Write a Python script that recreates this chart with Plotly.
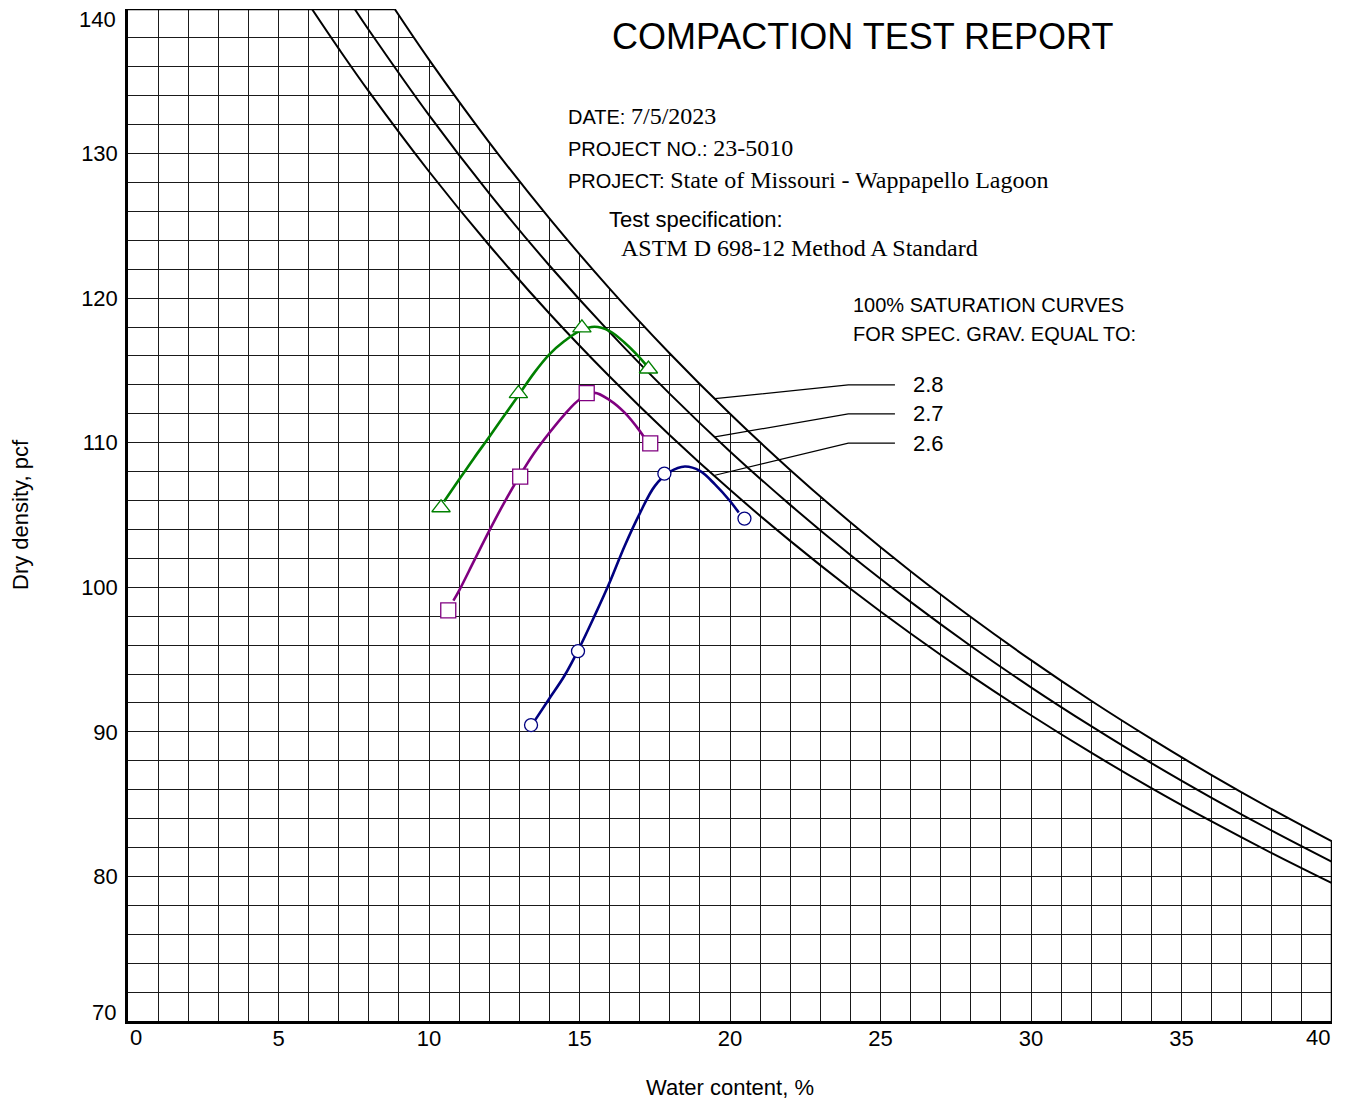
import plotly.graph_objects as go

# ---------------- axis ticks ----------------
x_tick_vals = [0, 5, 10, 15, 20, 25, 30, 35, 40]
x_tick_text = ["", "5", "10", "15", "20", "25", "30", "35", ""]
y_tick_vals = [70, 80, 90, 100, 110, 120, 130, 140]
y_tick_text = ["", "80", "90", "100", "110", "120", "130", ""]

X_RANGE = [0, 40]
Y_RANGE = [70, 140]

# ---------------- 100% saturation curves ----------------
sat_28_w = [8.86, 10, 12, 14, 16, 18, 20, 22, 24, 26, 28, 30, 32, 34, 36, 38, 40]
sat_28_d = [140.0, 136.5, 130.78, 125.52, 120.66, 116.17, 112.0, 108.12, 104.5,
            101.11, 97.94, 94.96, 92.15, 89.51, 87.01, 84.65, 82.42]
sat_27_w = [7.53, 8, 10, 12, 14, 16, 18, 20, 22, 24, 26, 28, 30, 32, 34, 36, 38, 40]
sat_27_d = [140.0, 138.55, 132.66, 127.25, 122.26, 117.65, 113.38, 109.4, 105.7,
            102.23, 98.99, 95.94, 93.08, 90.39, 87.84, 85.44, 83.16, 81.0]
sat_26_w = [6.11, 7, 8, 10, 12, 14, 16, 18, 20, 22, 24, 26, 28, 30, 32, 34, 36, 38, 40]
sat_26_d = [140.0, 137.26, 134.3, 128.76, 123.66, 118.94, 114.58, 110.52, 106.74,
            103.21, 99.9, 96.8, 93.89, 91.15, 88.56, 86.11, 83.8, 81.61, 79.53]
sat_labels = ["2.8", "2.7", "2.6"]

# ---------------- test points ----------------
green_pts_w = [10.40, 12.97, 15.08, 17.29]
green_pts_d = [105.5, 113.4, 117.95, 115.1]
purple_pts_w = [10.64, 13.03, 15.24, 17.35]
purple_pts_d = [98.4, 107.65, 113.43, 109.95]
blue_pts_w = [13.39, 14.95, 17.82, 20.48]
blue_pts_d = [90.47, 95.58, 107.86, 104.75]

# ---------------- fitted curves ----------------
green_fit_w = [10.50, 11.0, 11.5, 12.0, 12.5, 13.0, 13.5, 14.0, 14.5, 15.0, 15.5, 16.0, 16.5, 17.0, 17.26]
green_fit_d = [105.93, 107.45, 108.95, 110.4, 111.88, 113.36, 114.85, 116.11, 117.03, 117.72, 118.02,
               117.72, 116.92, 115.89, 115.26]
purple_fit_w = [10.81, 11.0, 11.5, 12.0, 12.5, 13.0, 13.5, 14.0, 14.5, 15.0, 15.5, 16.0, 16.5, 17.0, 17.2]
purple_fit_d = [99.08, 99.77, 101.84, 103.9, 105.86, 107.66, 109.3, 110.69, 111.95, 112.99, 113.45,
                112.95, 112.08, 110.82, 110.2]
blue_fit_w = [13.53, 14.0, 14.5, 15.0, 15.5, 16.0, 16.5, 17.0, 17.5, 18.0, 18.5, 19.0, 19.5, 20.0, 20.29]
blue_fit_d = [90.83, 92.31, 93.88, 95.83, 98.02, 100.33, 102.86, 105.1, 107.0, 107.98, 108.35,
              108.05, 107.12, 105.97, 105.17]

SANS = "Liberation Sans, Arial, sans-serif"
GREEN = "#008000"
PURPLE = "#800080"
NAVY = "#000080"
GRID_W = 1.4
GRID_C = "#1a1a1a"

fig = go.Figure()

# white mask above the 2.8 saturation curve (hides grid there)
fig.add_trace(go.Scatter(x=[sat_28_w[0], X_RANGE[1]], y=[Y_RANGE[1], Y_RANGE[1]],
                         mode="lines", line=dict(width=0, color="white"),
                         hoverinfo="skip", showlegend=False))
fig.add_trace(go.Scatter(x=sat_28_w, y=sat_28_d, mode="lines",
                         line=dict(color="black", width=2, shape="spline"),
                         fill="tonexty", fillcolor="white",
                         name="Gs 2.8", showlegend=False))
fig.add_trace(go.Scatter(x=sat_27_w, y=sat_27_d, mode="lines",
                         line=dict(color="black", width=2, shape="spline"),
                         name="Gs 2.7", showlegend=False))
fig.add_trace(go.Scatter(x=sat_26_w, y=sat_26_d, mode="lines",
                         line=dict(color="black", width=2, shape="spline"),
                         name="Gs 2.6", showlegend=False))

for fw, fd, col in [(green_fit_w, green_fit_d, GREEN),
                    (purple_fit_w, purple_fit_d, PURPLE),
                    (blue_fit_w, blue_fit_d, NAVY)]:
    fig.add_trace(go.Scatter(x=fw, y=fd, mode="lines",
                             line=dict(color=col, width=2.6, shape="spline"),
                             showlegend=False, hoverinfo="skip"))

for pw, pdd, col, sym, sz in [(green_pts_w, green_pts_d, GREEN, "triangle-up", 16),
                              (purple_pts_w, purple_pts_d, PURPLE, "square", 15),
                              (blue_pts_w, blue_pts_d, NAVY, "circle", 13)]:
    fig.add_trace(go.Scatter(x=pw, y=pdd, mode="markers",
                             marker=dict(symbol=sym, size=sz, color="white",
                                         line=dict(color=col, width=1.3)),
                             showlegend=False))

# leader lines to saturation curves
leaders = [
    ("M 19.5,113.05 L 23.93,114.0 L 25.48,114.0", 114.0),
    ("M 19.5,110.4 L 23.93,112.0 L 25.48,112.0", 112.0),
    ("M 19.5,107.75 L 23.93,109.97 L 25.48,109.97", 109.97),
]
shapes = []
for path, _ in leaders:
    shapes.append(dict(type="path", path=path, xref="x", yref="y",
                       line=dict(color="black", width=1.2)))
# frame segments (top-left and bottom-right parts)
shapes.append(dict(type="line", xref="x", yref="y", x0=X_RANGE[0], x1=sat_28_w[0],
                   y0=Y_RANGE[1], y1=Y_RANGE[1], line=dict(color="black", width=2.5)))
shapes.append(dict(type="line", xref="x", yref="y", x0=X_RANGE[1], x1=X_RANGE[1],
                   y0=Y_RANGE[0], y1=sat_28_d[-1], line=dict(color="black", width=2.5)))

annotations = []
def ann(text, x, y, size=20, xanchor="left", family=SANS, **kw):
    annotations.append(dict(text=text, x=x, y=y, xref="x", yref="y", showarrow=False,
                            xanchor=xanchor, yanchor="middle",
                            font=dict(family=family, size=size, color="black"), **kw))

def serif(t, size=24):
    return '<span style="font-family:Liberation Serif;font-size:%dpx">%s</span>' % (size, t)

ann("COMPACTION TEST REPORT", 24.39, 138.13, size=36, xanchor="center")
ann("DATE: " + serif("7/5/2023"), 14.55, 132.59)
ann("PROJECT NO.: " + serif("23-5010"), 14.55, 130.37)
ann("PROJECT: " + serif("State of Missouri - Wappapello Lagoon"), 14.55, 128.16)
ann("Test specification:", 15.91, 125.46, size=22)
ann(serif("ASTM D 698-12 Method A Standard"), 16.31, 123.45)
ann("100% SATURATION CURVES", 24.02, 119.5)
ann("FOR SPEC. GRAV. EQUAL TO:", 24.02, 117.49)
for lbl, (_, yy) in zip(sat_labels, leaders):
    ann(lbl, 26.01, yy, size=22)

# edge tick labels
edge = dict(showarrow=False, xref="paper", yref="paper",
            font=dict(family=SANS, size=22, color="black"))
annotations.append(dict(edge, text=str(x_tick_vals[0]), x=0, y=0, xanchor="left",
                        yanchor="middle", yshift=-16))
annotations.append(dict(edge, text=str(x_tick_vals[-1]), x=1, y=0, xanchor="right",
                        yanchor="middle", yshift=-16))
annotations.append(dict(edge, text=str(y_tick_vals[-1]), x=0, y=1, xanchor="right",
                        yanchor="top", xshift=-10, yshift=4))
annotations.append(dict(edge, text=str(y_tick_vals[0]), x=0, y=0, xanchor="right",
                        yanchor="bottom", xshift=-10, yshift=-6))

fig.update_layout(
    width=1347, height=1100,
    margin=dict(l=120, r=23, t=1, b=87),
    paper_bgcolor="white", plot_bgcolor="white",
    font=dict(family=SANS, size=22, color="black"),
    shapes=shapes, annotations=annotations,
    xaxis=dict(range=X_RANGE, tickvals=x_tick_vals, ticktext=x_tick_text,
               showgrid=True, gridcolor=GRID_C, gridwidth=GRID_W,
               minor=dict(dtick=1, showgrid=True, gridcolor=GRID_C, gridwidth=GRID_W),
               showline=True, linecolor="black", linewidth=2.5, ticks="",
               ticklabelstandoff=-4,
               zeroline=False, tickfont=dict(size=22),
               title=dict(text="Water content, %", standoff=30, font=dict(size=22))),
    yaxis=dict(range=Y_RANGE, tickvals=y_tick_vals, ticktext=y_tick_text,
               showgrid=True, gridcolor=GRID_C, gridwidth=GRID_W,
               minor=dict(dtick=2, showgrid=True, gridcolor=GRID_C, gridwidth=GRID_W),
               showline=True, linecolor="black", linewidth=2.5, ticks="",
               ticklabelstandoff=3,
               zeroline=False, tickfont=dict(size=22),
               title=dict(text="Dry density, pcf", standoff=53, font=dict(size=22))),
)

fig.write_html("out.html")
